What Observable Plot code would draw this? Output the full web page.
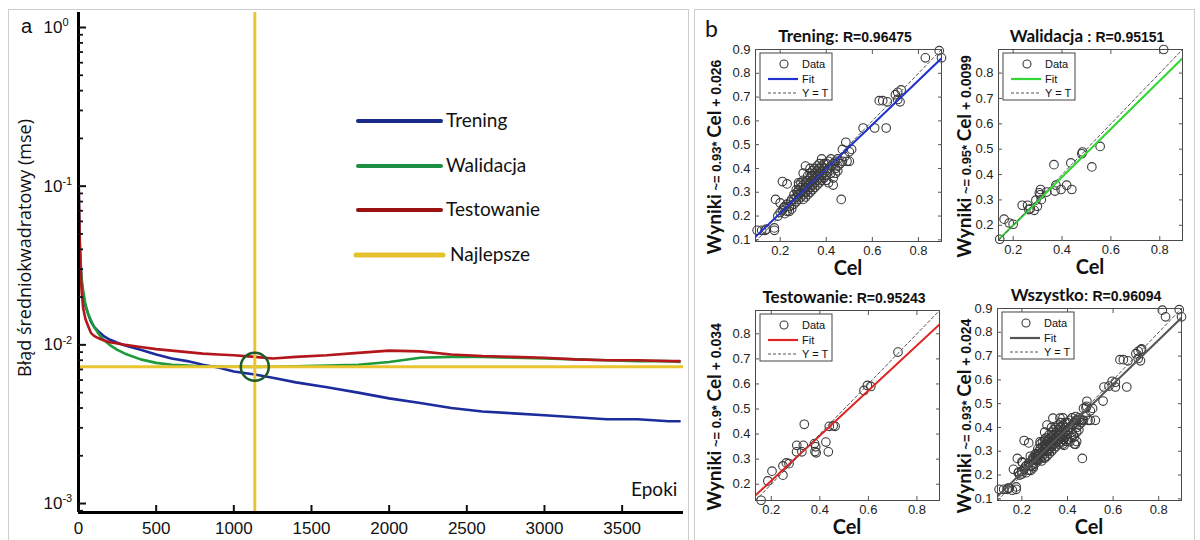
<!DOCTYPE html>
<html>
<head>
<meta charset="utf-8">
<script src="https://cdn.jsdelivr.net/npm/d3@7"></script>
<script src="https://cdn.jsdelivr.net/npm/@observablehq/plot@0.6"></script>
<style>
  html, body { margin: 0; padding: 0; background: #fff; }
  #page { position: relative; width: 1200px; height: 540px; overflow: hidden; background: #fff; }
  .panel { position: absolute; border: 1px solid #cdcdcd; box-sizing: border-box; }
  #page svg { position: absolute; overflow: visible; }
</style>
</head>
<body>
<div id="page">
  <div class="panel" style="left:8px; top:9px; width:681px; height:560px;"></div>
  <div class="panel" style="left:694px; top:9px; width:501px; height:560px;"></div>
</div>
<script>
// ---------- (a) training curves ----------
const epochs = [0, 5, 10, 20, 30, 45, 60, 80, 100, 130, 160, 200, 250, 300, 400, 500, 600, 700, 800, 900, 1000,
  1135, 1250, 1400, 1600, 1800, 2000, 2200, 2400, 2600, 2800, 3000, 3200, 3400, 3600, 3800, 3870];
const mseTrening = [0.13, 0.06, 0.04, 0.025, 0.02, 0.0175, 0.0159, 0.014, 0.013, 0.0121, 0.0114, 0.0108, 0.0103, 0.0099,
  0.0093, 0.0087, 0.0082, 0.0079, 0.0075, 0.0072, 0.0068, 0.0065, 0.0062, 0.0058, 0.0054, 0.0050, 0.0046,
  0.0043, 0.0040, 0.0038, 0.0037, 0.0036, 0.0035, 0.0034, 0.0034, 0.0033, 0.0033];
const mseWalidacja = [0.09, 0.05, 0.035, 0.026, 0.022, 0.018, 0.0158, 0.0143, 0.013, 0.0117, 0.0108, 0.0100, 0.0093, 0.0088,
  0.0081, 0.0077, 0.0075, 0.0074, 0.0073, 0.0073, 0.00728, 0.00727, 0.00728, 0.00732, 0.0074, 0.0075, 0.0078,
  0.0083, 0.0084, 0.0084, 0.0083, 0.0082, 0.0081, 0.0080, 0.0079, 0.0079, 0.0078];
const mseTestowanie = [0.115, 0.06, 0.035, 0.022, 0.017, 0.0145, 0.0133, 0.0119, 0.0114, 0.0110, 0.0107, 0.0104, 0.0102, 0.0100,
  0.0097, 0.0094, 0.0092, 0.0090, 0.0088, 0.0087, 0.0086, 0.0084, 0.0082, 0.0084, 0.0086, 0.0089, 0.0092,
  0.0091, 0.0087, 0.0085, 0.0084, 0.0083, 0.0081, 0.0080, 0.0080, 0.0079, 0.0079];
const bestEpoch = 1135;
const bestMse = 0.00727;

const seriesNames = ["Trening", "Walidacja", "Testowanie"];
const seriesColors = ["#1c2c9c", "#1f9a3a", "#b3161b"];
const legendNames = ["Trening", "Walidacja", "Testowanie", "Najlepsze"];
const legendColors = ["#1b2a8a", "#1d8f45", "#9b1111", "#e5c12e"];
const bestColor = "#e9c531";

const epochTicks = [0, 500, 1000, 1500, 2000, 2500, 3000, 3500];
const decadeTicks = [1, 0.1, 0.01, 0.001];
const epochDomain = [0, 3895];
const mseDomain = [0.000878, 1.243];

// ---------- (b) regression panels ----------
const treningPary = [
  [0.10,0.14],[0.12,0.14],[0.135,0.14],[0.14,0.145],[0.175,0.14],[0.175,0.15],[0.18,0.27],[0.20,0.255],[0.21,0.345],[0.23,0.335],
  [0.19,0.20],[0.20,0.215],[0.21,0.225],[0.22,0.21],[0.215,0.235],[0.23,0.22],[0.24,0.24],[0.25,0.245],[0.245,0.26],[0.25,0.23],
  [0.26,0.25],[0.26,0.27],[0.27,0.26],[0.27,0.28],[0.28,0.27],[0.28,0.29],[0.275,0.30],[0.28,0.33],[0.29,0.28],[0.29,0.30],
  [0.29,0.32],[0.30,0.29],[0.30,0.31],[0.30,0.33],[0.30,0.35],[0.31,0.30],[0.31,0.32],[0.31,0.34],[0.31,0.41],[0.32,0.31],
  [0.32,0.33],[0.32,0.35],[0.32,0.37],[0.33,0.32],[0.33,0.34],[0.33,0.36],[0.33,0.38],[0.34,0.33],[0.34,0.35],[0.34,0.37],
  [0.34,0.39],[0.35,0.32],[0.35,0.34],[0.35,0.36],[0.35,0.38],[0.36,0.35],[0.36,0.37],[0.36,0.39],[0.36,0.33],[0.37,0.36],
  [0.37,0.38],[0.37,0.40],[0.37,0.34],[0.38,0.37],[0.38,0.35],[0.38,0.41],[0.38,0.44],[0.39,0.38],[0.39,0.36],[0.39,0.40],
  [0.40,0.39],[0.40,0.35],[0.40,0.42],[0.41,0.40],[0.41,0.34],[0.42,0.41],[0.42,0.38],[0.43,0.42],[0.43,0.36],[0.43,0.33],
  [0.44,0.43],[0.44,0.40],[0.45,0.41],[0.45,0.44],[0.465,0.27],[0.47,0.43],[0.47,0.48],[0.48,0.45],[0.485,0.51],[0.49,0.43],
  [0.50,0.47],[0.51,0.48],[0.50,0.43],[0.56,0.57],[0.61,0.57],[0.66,0.57],[0.63,0.685],[0.645,0.685],[0.665,0.68],[0.70,0.71],
  [0.71,0.72],[0.725,0.73],[0.71,0.69],[0.72,0.68],[0.83,0.865],[0.89,0.895],[0.90,0.865],[0.22,0.24],[0.23,0.25],[0.24,0.22],
  [0.25,0.27],[0.26,0.29],[0.27,0.31],[0.28,0.31],[0.29,0.34],[0.30,0.27],[0.31,0.28],[0.32,0.29],[0.33,0.30],[0.34,0.31],
  [0.35,0.40],[0.36,0.41],[0.37,0.42],[0.39,0.42],[0.40,0.37],[0.41,0.43],[0.42,0.44],[0.44,0.38],[0.45,0.39],[0.46,0.42],
  [0.28,0.34],[0.30,0.38],[0.33,0.40]
];
const walidacjaPary = [
  [0.145,0.145],[0.163,0.224],[0.184,0.209],[0.20,0.204],[0.237,0.279],[0.259,0.279],[0.264,0.262],[0.286,0.259],[0.293,0.299],
  [0.299,0.275],[0.307,0.328],[0.312,0.341],[0.315,0.301],[0.337,0.331],[0.367,0.439],[0.371,0.335],[0.375,0.358],[0.396,0.341],
  [0.419,0.358],[0.436,0.446],[0.44,0.341],[0.481,0.482],[0.484,0.489],[0.522,0.43],[0.556,0.511],[0.816,0.893],[0.27,0.265],[0.31,0.32]
];
const testowaniePary = [
  [0.158,0.136],[0.186,0.213],[0.203,0.252],[0.248,0.273],[0.248,0.236],[0.262,0.285],[0.273,0.282],[0.305,0.355],[0.304,0.329],
  [0.326,0.329],[0.332,0.355],[0.336,0.439],[0.378,0.362],[0.383,0.349],[0.385,0.325],[0.425,0.368],[0.435,0.329],[0.439,0.431],
  [0.463,0.431],[0.455,0.433],[0.582,0.574],[0.596,0.594],[0.61,0.59],[0.722,0.727],[0.38,0.33]
];
const wszystkoPary = [...treningPary, ...walidacjaPary, ...testowaniePary];

const panelNames = ["Trening", "Walidacja", "Testowanie", "Wszystko"];
const panelColons = [": ", " : ", ": ", ": "];
const panelR = ["0.96475", "0.95151", "0.95243", "0.96094"];
const fitSlopes = [0.93, 0.95, 0.9, 0.93];
const fitIntercepts = [0.026, 0.0099, 0.034, 0.024];
const fitColors = ["#2233cc", "#33d633", "#e02424", "#555555"];
const panelDomains = [[0.093, 0.9], [0.14, 0.893], [0.135, 0.893], [0.093, 0.9]];
const panelYTicks = [[0.1,0.2,0.3,0.4,0.5,0.6,0.7,0.8,0.9], [0.2,0.3,0.4,0.5,0.6,0.7,0.8], [0.2,0.3,0.4,0.5,0.6,0.7,0.8], [0.1,0.2,0.3,0.4,0.5,0.6,0.7,0.8,0.9]];
const panelXTicks = [0.2, 0.4, 0.6, 0.8];

const SANS = "'Liberation Sans', Arial, sans-serif";
const CAL = "Lato, 'Open Sans', sans-serif";
const page = document.getElementById("page");

// Append a text made of styled runs to an svg selection
function runs(sel, x, y, parts, {anchor = "start", rotate = 0} = {}) {
  const t = sel.append("text")
    .attr("text-anchor", anchor)
    .attr("fill", "#111")
    .attr("transform", `translate(${x},${y}) rotate(${rotate})`);
  for (const p of parts) {
    t.append("tspan")
      .attr("font-family", p.family || SANS)
      .attr("font-size", p.size)
      .attr("font-weight", p.weight || "normal")
      .text(p.text);
  }
  return t;
}

// Axis whose ticks point into the frame: the inset moves the tick back by its own length
function innerAxisY(anchor, len, opts) {
  const inset = anchor === "left" ? {insetLeft: len} : {insetRight: len};
  return Plot.axisY({anchor, tickSize: len, ...inset, label: null, ...opts});
}
function innerAxisX(anchor, len, opts) {
  const inset = anchor === "bottom" ? {insetBottom: len} : {insetTop: len};
  return Plot.axisX({anchor, tickSize: len, ...inset, label: null, ...opts});
}

// ---------- left chart ----------
const curveRows = [];
[mseTrening, mseWalidacja, mseTestowanie].forEach((vals, s) =>
  epochs.forEach((e, i) => curveRows.push({series: seriesNames[s], epoch: e, mse: vals[i]})));

const minorTicks = [];
for (let k = -4; k <= 0; k++) for (let m = 2; m <= 9; m++) {
  const v = m * Math.pow(10, k);
  if (v >= mseDomain[0] && v <= mseDomain[1]) minorTicks.push(v);
}

const mseChart = Plot.plot({
  width: 690, height: 540,
  marginLeft: 78, marginRight: 7, marginTop: 12, marginBottom: 28,
  style: {background: "transparent", fontFamily: SANS, fontSize: "17px", color: "#111"},
  x: {domain: epochDomain},
  y: {type: "log", domain: mseDomain},
  color: {domain: seriesNames, range: seriesColors},
  marks: [
    Plot.line(curveRows, {x: "epoch", y: "mse", z: "series", stroke: "series", strokeWidth: 2.6}),
    Plot.ruleY([bestMse], {stroke: bestColor, strokeWidth: 3}),
    Plot.ruleX([bestEpoch], {stroke: bestColor, strokeWidth: 3}),
    Plot.dot([{epoch: bestEpoch, mse: bestMse}], {x: "epoch", y: "mse", r: 14, stroke: "#1d5a2c", strokeWidth: 2.5, fill: "none"}),
    Plot.ruleX([epochDomain[0]], {stroke: "#000", strokeWidth: 3}),
    Plot.ruleY([mseDomain[0]], {stroke: "#000", strokeWidth: 3}),
    innerAxisY("left", 5, {ticks: minorTicks, tickFormat: () => "", strokeWidth: 1.8}),
    innerAxisY("left", 8, {ticks: decadeTicks, tickPadding: 35, textAnchor: "start",
      tickFormat: d => `10^${Math.round(Math.log10(d))}`, strokeWidth: 2, fontSize: 17}),
    innerAxisX("bottom", 7, {ticks: epochTicks, tickFormat: d => String(d), tickPadding: 9, strokeWidth: 2, fontSize: 17})
  ]
});
mseChart.style.left = "0px";
mseChart.style.top = "0px";
page.appendChild(mseChart);

const leftSvg = d3.select(mseChart);
// superscript exponents on the decade labels
leftSvg.selectAll('g[aria-label="y-axis tick label"] text').each(function () {
  const m = this.textContent.match(/^10\^(.*)$/);
  if (!m) return;
  const t = d3.select(this);
  t.text(null);
  t.append("tspan").text("10");
  t.append("tspan").attr("dy", "-0.6em").attr("font-size", "11px").text(m[1]);
});
runs(leftSvg, 21, 33, [{text: "a", size: "20px"}]);
runs(leftSvg, 31, 248, [{text: "Błąd średniokwadratowy (mse)", size: "18px", family: "'Open Sans', sans-serif"}], {anchor: "middle", rotate: -90});
runs(leftSvg, 631, 496, [{text: "Epoki", size: "19px", family: CAL}]);

const legendYs = [121, 166, 210, 255];
legendNames.forEach((name, i) => {
  const last = i === legendNames.length - 1;
  leftSvg.append("line")
    .attr("x1", last ? 356 : 358).attr("x2", last ? 443 : 441)
    .attr("y1", legendYs[i]).attr("y2", legendYs[i])
    .attr("stroke", legendColors[i]).attr("stroke-width", last ? 5 : 4).attr("stroke-linecap", "round");
  runs(leftSvg, last ? 450 : 446, legendYs[i] + 6, [{text: name, size: "19px", family: CAL}]);
});

// ---------- regression panels ----------
const panelLayouts = [
  {left: 697, top: 15, w: 250, h: 265, ml: 58, mr: 6, mt: 34, mb: 39, lx: 24},
  {left: 945, top: 15, w: 255, h: 265, ml: 53, mr: 18, mt: 34, mb: 40, lx: 26},
  {left: 697, top: 275, w: 250, h: 265, ml: 58, mr: 8, mt: 35, mb: 40, lx: 24},
  {left: 945, top: 275, w: 255, h: 265, ml: 52, mr: 19, mt: 33, mb: 40, lx: 26}
];
const panelData = [treningPary, walidacjaPary, testowaniePary, wszystkoPary];

panelNames.forEach((name, p) => {
  const L = panelLayouts[p];
  const domain = panelDomains[p];
  const points = panelData[p].map(([cel, wynik]) => ({cel, wynik}));
  const fit = domain.map(c => ({cel: c, wynik: fitSlopes[p] * c + fitIntercepts[p]}));
  const identity = domain.map(c => ({cel: c, wynik: c}));
  const chart = Plot.plot({
    width: L.w, height: L.h,
    marginLeft: L.ml, marginRight: L.mr, marginTop: L.mt, marginBottom: L.mb,
    style: {background: "transparent", fontFamily: SANS, fontSize: "13px", color: "#222"},
    x: {domain},
    y: {domain},
    marks: [
      Plot.dot(points, {x: "cel", y: "wynik", r: 4.3, stroke: "#3a3a3a", strokeWidth: 1.1, fill: "none"}),
      Plot.line(fit, {x: "cel", y: "wynik", stroke: fitColors[p], strokeWidth: 2, clip: true}),
      Plot.line(identity, {x: "cel", y: "wynik", stroke: "#555", strokeWidth: 1, strokeDasharray: "3,2.5", clip: true}),
      Plot.frame({stroke: "#4a4a4a", strokeWidth: 1}),
      innerAxisX("bottom", 4, {ticks: panelXTicks, tickPadding: 4, stroke: "#555"}),
      innerAxisX("top", 4, {ticks: panelXTicks, tickFormat: () => "", stroke: "#555"}),
      innerAxisY("left", 4, {ticks: panelYTicks[p], tickPadding: 5, stroke: "#555"}),
      innerAxisY("right", 4, {ticks: panelYTicks[p], tickFormat: () => "", stroke: "#555"})
    ]
  });
  chart.style.left = L.left + "px";
  chart.style.top = L.top + "px";
  page.appendChild(chart);

  const svg = d3.select(chart);
  const boxW = L.w - L.ml - L.mr;
  const boxH = L.h - L.mt - L.mb;
  const cx = L.ml + boxW / 2;

  // title
  runs(svg, cx - 3, L.mt - 7, [
    {text: name, size: "17px", weight: "bold", family: CAL},
    {text: panelColons[p] + "R=" + panelR[p], size: "14px", weight: "bold"}
  ], {anchor: "middle"});
  // axis labels
  runs(svg, cx, L.h - L.mb + 34, [{text: "Cel", size: "20px", weight: "bold", family: CAL}], {anchor: "middle"});
  runs(svg, L.lx, L.mt + boxH / 2 + 12, [
    {text: "Wyniki", size: "19px", weight: "bold", family: CAL},
    {text: ` ~= ${fitSlopes[p]}* `, size: "13px", weight: "bold"},
    {text: "Cel", size: "19px", weight: "bold", family: CAL},
    {text: ` + ${fitIntercepts[p]}`, size: "14px", weight: "bold"}
  ], {anchor: "middle", rotate: -90});

  // legend box
  const g = svg.append("g").attr("transform", `translate(${L.ml + 5},${L.mt + 4})`);
  g.append("rect").attr("width", 72).attr("height", 47).attr("fill", "#fff").attr("stroke", "#444").attr("stroke-width", 1);
  g.append("circle").attr("cx", 24).attr("cy", 11).attr("r", 4).attr("fill", "none").attr("stroke", "#3a3a3a").attr("stroke-width", 1.1);
  g.append("line").attr("x1", 8).attr("x2", 38).attr("y1", 26).attr("y2", 26).attr("stroke", fitColors[p]).attr("stroke-width", 2.2);
  g.append("line").attr("x1", 8).attr("x2", 38).attr("y1", 40).attr("y2", 40).attr("stroke", "#555").attr("stroke-width", 1).attr("stroke-dasharray", "3,2");
  runs(g, 42, 15, [{text: "Data", size: "11px"}]);
  runs(g, 42, 30, [{text: "Fit", size: "11px"}]);
  runs(g, 42, 44, [{text: "Y = T", size: "11px"}]);

  if (p === 0) runs(svg, 8, 22, [{text: "b", size: "23px", family: CAL}]);
});
</script>
</body>
</html>
